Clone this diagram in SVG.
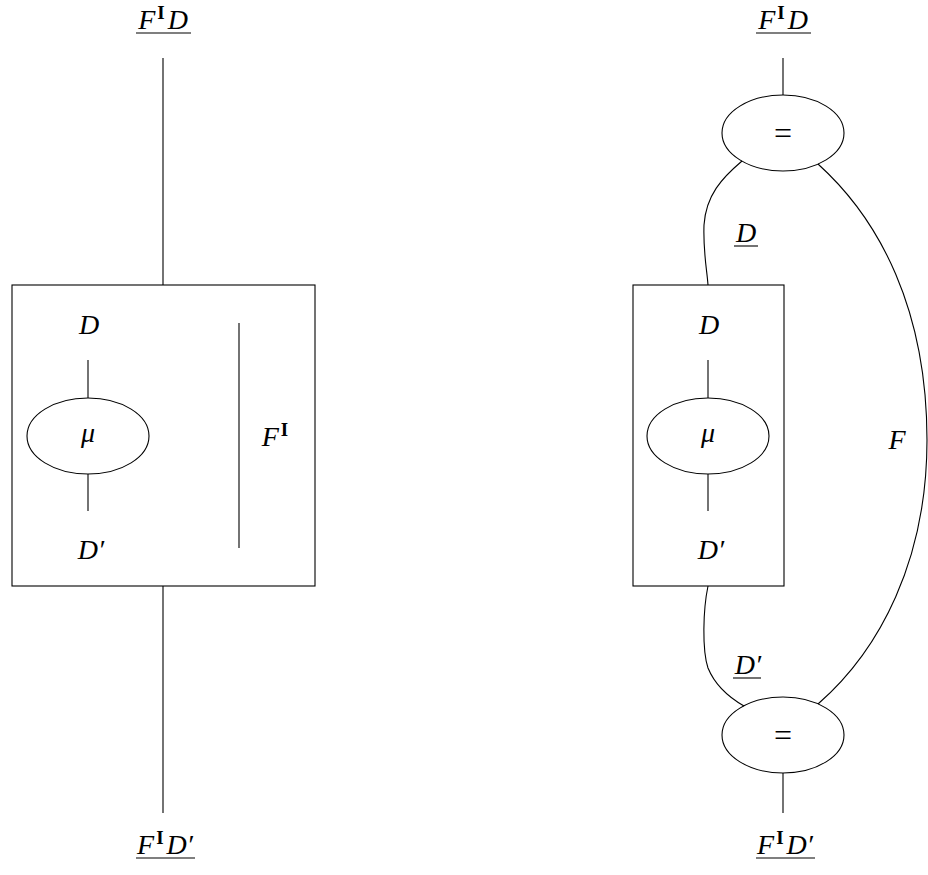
<svg xmlns="http://www.w3.org/2000/svg" width="928" height="875" viewBox="0 0 928 875">
<style>
.w{fill:none;stroke:#000;stroke-width:1.1}
.t{font-family:"Liberation Serif","DejaVu Serif",serif;font-size:28px;fill:#000}
.i{font-style:italic}
.s{font-weight:bold;font-size:19px;font-style:normal}
.eq{font-size:32px}
</style>
<rect width="928" height="875" fill="#fff"/>
<g id="connectors">
<line class="w" x1="163" y1="58" x2="163" y2="285"/>
<line class="w" x1="163" y1="586" x2="163" y2="813"/>
<line class="w" x1="88" y1="360" x2="88" y2="398"/>
<line class="w" x1="88" y1="474" x2="88" y2="511"/>
<line class="w" x1="239" y1="323" x2="239" y2="548"/>
<line class="w" x1="783" y1="58" x2="783" y2="95"/>
<line class="w" x1="783" y1="773" x2="783" y2="813"/>
<line class="w" x1="708" y1="360" x2="708" y2="398"/>
<line class="w" x1="708" y1="474" x2="708" y2="511"/>
<path class="w" d="M742,161 C722,178 706,195 704,225 C703,252 707,270 708,285"/>
<path class="w" d="M708,586 C703,610 702,650 708,668 C715,685 730,698 744,706"/>
<path class="w" d="M818,164 C880,220 927,310 927,440 C927,560 880,650 818,704"/>
</g>
<g id="left-top-label">
<text class="t" x="163" y="29" text-anchor="middle"><tspan class="i">F</tspan><tspan class="s" dx="2" dy="-10">I</tspan><tspan class="i" dx="3" dy="10">D</tspan></text>
<line class="w" x1="136" y1="33" x2="191" y2="33"/>
</g>
<g id="left-box">
<rect class="w" x="12" y="285" width="303" height="301"/>
<text class="t i" x="89" y="334" text-anchor="middle">D</text>
<text class="t i" x="91" y="559" text-anchor="middle">D′</text>
<text class="t" x="275" y="446" text-anchor="middle"><tspan class="i">F</tspan><tspan class="s" dx="2" dy="-10">I</tspan></text>
</g>
<g id="left-mu">
<ellipse class="w" cx="88" cy="436" rx="61" ry="38"/>
<text class="t i" x="88" y="442" text-anchor="middle" font-size="27">μ</text>
</g>
<g id="left-bottom-label">
<text class="t" x="165" y="854" text-anchor="middle"><tspan class="i">F</tspan><tspan class="s" dx="2" dy="-10">I</tspan><tspan class="i" dx="3" dy="10">D′</tspan></text>
<line class="w" x1="136" y1="858" x2="195" y2="858"/>
</g>
<g id="right-top-label">
<text class="t" x="783" y="29" text-anchor="middle"><tspan class="i">F</tspan><tspan class="s" dx="2" dy="-10">I</tspan><tspan class="i" dx="3" dy="10">D</tspan></text>
<line class="w" x1="756" y1="33" x2="811" y2="33"/>
</g>
<g id="right-eq-top">
<ellipse class="w" cx="783" cy="133" rx="61" ry="38"/>
<text class="t eq" x="783" y="144" text-anchor="middle">=</text>
</g>
<g id="right-box">
<rect class="w" x="633" y="285" width="151" height="301"/>
<text class="t i" x="709" y="334" text-anchor="middle">D</text>
<text class="t i" x="711" y="559" text-anchor="middle">D′</text>
</g>
<g id="right-mu">
<ellipse class="w" cx="708" cy="436" rx="61" ry="38"/>
<text class="t i" x="708" y="442" text-anchor="middle" font-size="27">μ</text>
</g>
<g id="label-D">
<text class="t i" x="746" y="242" text-anchor="middle">D</text>
<line class="w" x1="734" y1="246" x2="758" y2="246"/>
</g>
<g id="label-Dp">
<text class="t i" x="748" y="674" text-anchor="middle">D′</text>
<line class="w" x1="733" y1="678" x2="761" y2="678"/>
</g>
<g id="label-F">
<text class="t i" x="897" y="449" text-anchor="middle">F</text>
</g>
<g id="right-eq-bottom">
<ellipse class="w" cx="783" cy="735" rx="61" ry="38"/>
<text class="t eq" x="783" y="746" text-anchor="middle">=</text>
</g>
<g id="right-bottom-label">
<text class="t" x="785" y="854" text-anchor="middle"><tspan class="i">F</tspan><tspan class="s" dx="2" dy="-10">I</tspan><tspan class="i" dx="3" dy="10">D′</tspan></text>
<line class="w" x1="756" y1="858" x2="815" y2="858"/>
</g>
</svg>
